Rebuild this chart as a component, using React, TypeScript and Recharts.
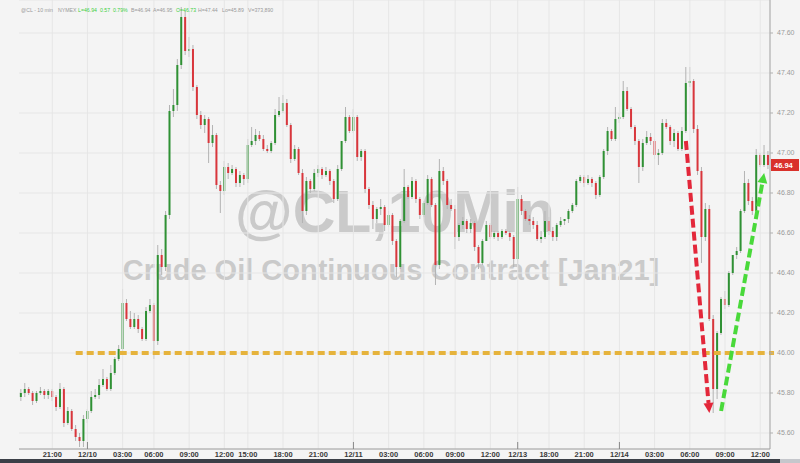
import React from 'react';
import { ComposedChart, Bar, XAxis, YAxis, CartesianGrid, ReferenceLine } from 'recharts';

// 20-minute candles, 12/09 evening to 12/14 midday
const opens = [
  45.78, 45.80, 45.82, 45.80, 45.76, 45.80, 45.81, 45.79, 45.81, 45.78,
  45.73, 45.82, 45.65, 45.71, 45.62, 45.58, 45.56, 45.67, 45.71, 45.78,
  45.79, 45.84, 45.87, 45.82, 45.90, 45.97, 46.02, 46.25, 46.17, 46.13,
  46.17, 46.12, 46.07, 46.21, 46.24, 46.06, 46.49, 46.43, 46.69, 47.21,
  47.24, 47.44, 47.68, 47.51, 47.52, 47.33, 47.19, 47.14, 47.17, 47.05,
  47.09, 46.84, 46.81, 46.93, 46.90, 46.92, 46.85, 46.89, 46.87, 47.04,
  47.06, 47.09, 47.07, 47.02, 47.01, 47.05, 47.19, 47.21, 47.25, 47.14,
  46.97, 47.02, 46.90, 46.71, 46.86, 46.82, 46.90, 46.92, 46.89, 46.91,
  46.86, 46.77, 46.92, 47.06, 47.18, 47.11, 47.18, 46.98, 47.01, 46.82,
  46.74, 46.67, 46.72, 46.73, 46.64, 46.69, 46.56, 46.43, 46.66, 46.83,
  46.78, 46.86, 46.77, 46.69, 46.75, 46.87, 46.74, 46.44, 46.91, 46.86,
  46.74, 46.72, 46.58, 46.64, 46.66, 46.62, 46.65, 46.53, 46.45, 46.56,
  46.64, 46.58, 46.60, 46.58, 46.61, 46.60, 46.58, 46.47, 46.77, 46.71,
  46.67, 46.66, 46.64, 46.57, 46.58, 46.66, 46.61, 46.58, 46.64, 46.66,
  46.67, 46.71, 46.74, 46.86, 46.88, 46.85, 46.87, 46.85, 46.79, 46.88,
  47.01, 47.11, 47.07, 47.17, 47.18, 47.31, 47.22, 47.13, 47.06, 46.93,
  47.05, 47.08, 47.06, 46.99, 47.00, 47.15, 47.13, 47.06, 47.10, 47.02,
  47.11, 47.35, 47.36, 47.12, 46.91, 46.58, 46.72, 46.17, 45.82, 46.10,
  46.27, 46.24, 46.40, 46.49, 46.51, 46.71, 46.85, 46.76, 46.71, 46.99,
  46.94, 46.99,
];

const highs = [
  45.82, 45.85, 45.83, 45.81, 45.81, 45.83, 45.82, 45.82, 45.82, 45.79,
  45.85, 45.83, 45.73, 45.72, 45.64, 45.60, 45.69, 45.72, 45.81, 45.82,
  45.87, 45.92, 45.88, 45.94, 45.98, 46.04, 46.32, 46.27, 46.21, 46.20,
  46.19, 46.13, 46.23, 46.27, 46.25, 46.54, 46.52, 46.71, 47.24, 47.32,
  47.47, 47.73, 47.71, 47.58, 47.54, 47.34, 47.21, 47.19, 47.18, 47.14,
  47.10, 46.86, 46.96, 46.95, 46.94, 46.93, 46.91, 46.90, 47.07, 47.13,
  47.12, 47.11, 47.09, 47.04, 47.06, 47.22, 47.28, 47.29, 47.27, 47.15,
  47.04, 47.03, 46.92, 46.88, 46.87, 46.92, 46.94, 46.93, 46.93, 46.92,
  46.87, 46.94, 47.06, 47.23, 47.19, 47.22, 47.19, 47.02, 47.02, 46.83,
  46.76, 46.73, 46.77, 46.74, 46.71, 46.70, 46.57, 46.67, 46.92, 46.84,
  46.88, 46.87, 46.78, 46.76, 46.89, 46.88, 46.75, 46.97, 46.93, 46.87,
  46.77, 46.74, 46.65, 46.68, 46.67, 46.67, 46.66, 46.54, 46.57, 46.66,
  46.65, 46.61, 46.61, 46.62, 46.62, 46.61, 46.59, 46.83, 46.79, 46.72,
  46.69, 46.68, 46.66, 46.61, 46.71, 46.68, 46.63, 46.65, 46.68, 46.67,
  46.72, 46.75, 46.87, 46.89, 46.89, 46.89, 46.88, 46.86, 46.89, 47.02,
  47.13, 47.12, 47.23, 47.20, 47.36, 47.33, 47.23, 47.14, 47.07, 47.07,
  47.11, 47.10, 47.07, 47.02, 47.17, 47.17, 47.14, 47.12, 47.11, 47.13,
  47.43, 47.43, 47.37, 47.14, 46.93, 46.75, 46.74, 46.19, 46.11, 46.28,
  46.31, 46.41, 46.49, 46.53, 46.72, 46.91, 46.87, 46.78, 47.02, 47.00,
  47.04, 47.01,
];

const lows = [
  45.76, 45.78, 45.79, 45.74, 45.75, 45.79, 45.77, 45.77, 45.76, 45.71,
  45.72, 45.63, 45.64, 45.61, 45.56, 45.53, 45.53, 45.65, 45.70, 45.77,
  45.77, 45.83, 45.81, 45.81, 45.89, 45.96, 46.01, 46.16, 46.12, 46.12,
  46.10, 46.06, 46.06, 46.20, 45.97, 46.04, 46.39, 46.41, 46.67, 47.18,
  47.21, 47.42, 47.49, 47.48, 47.31, 47.17, 47.12, 47.10, 46.95, 47.03,
  46.82, 46.70, 46.79, 46.87, 46.89, 46.83, 46.83, 46.84, 46.85, 47.03,
  47.04, 47.06, 47.01, 47.00, 47.00, 47.04, 47.18, 47.20, 47.13, 46.95,
  46.96, 46.89, 46.65, 46.69, 46.80, 46.81, 46.88, 46.87, 46.88, 46.84,
  46.75, 46.76, 46.91, 47.05, 47.10, 47.10, 46.96, 46.96, 46.80, 46.72,
  46.62, 46.65, 46.69, 46.61, 46.63, 46.54, 46.38, 46.42, 46.65, 46.77,
  46.77, 46.75, 46.67, 46.68, 46.74, 46.73, 46.34, 46.42, 46.84, 46.72,
  46.71, 46.52, 46.56, 46.62, 46.60, 46.60, 46.51, 46.42, 46.44, 46.56,
  46.57, 46.57, 46.56, 46.57, 46.59, 46.56, 46.43, 46.44, 46.69, 46.66,
  46.64, 46.62, 46.56, 46.55, 46.57, 46.59, 46.56, 46.56, 46.63, 46.64,
  46.65, 46.70, 46.73, 46.85, 46.83, 46.84, 46.83, 46.77, 46.78, 46.87,
  46.99, 47.06, 47.06, 47.15, 47.17, 47.21, 47.12, 47.04, 46.85, 46.91,
  47.04, 47.04, 46.97, 46.94, 46.99, 47.12, 47.04, 47.03, 47.01, 47.01,
  47.10, 47.33, 47.10, 46.89, 46.45, 46.56, 46.16, 45.70, 45.77, 46.09,
  46.22, 46.23, 46.39, 46.47, 46.50, 46.70, 46.74, 46.69, 46.70, 46.93,
  46.93, 46.92,
];

const closes = [
  45.80, 45.82, 45.80, 45.76, 45.80, 45.81, 45.79, 45.81, 45.78, 45.73,
  45.82, 45.65, 45.71, 45.62, 45.58, 45.56, 45.67, 45.71, 45.78, 45.79,
  45.84, 45.87, 45.82, 45.90, 45.97, 46.02, 46.25, 46.17, 46.13, 46.17,
  46.12, 46.07, 46.21, 46.24, 46.06, 46.49, 46.43, 46.69, 47.21, 47.24,
  47.44, 47.68, 47.51, 47.52, 47.33, 47.19, 47.14, 47.17, 47.05, 47.09,
  46.84, 46.81, 46.93, 46.90, 46.92, 46.85, 46.89, 46.87, 47.04, 47.06,
  47.09, 47.07, 47.02, 47.01, 47.05, 47.19, 47.21, 47.25, 47.14, 46.97,
  47.02, 46.90, 46.71, 46.86, 46.82, 46.90, 46.92, 46.89, 46.91, 46.86,
  46.77, 46.92, 47.06, 47.18, 47.11, 47.18, 46.98, 47.01, 46.82, 46.74,
  46.67, 46.72, 46.73, 46.64, 46.69, 46.56, 46.43, 46.66, 46.83, 46.78,
  46.86, 46.77, 46.69, 46.75, 46.87, 46.74, 46.44, 46.91, 46.86, 46.74,
  46.72, 46.58, 46.64, 46.66, 46.62, 46.65, 46.53, 46.45, 46.56, 46.64,
  46.58, 46.60, 46.58, 46.61, 46.60, 46.58, 46.47, 46.77, 46.71, 46.67,
  46.66, 46.64, 46.57, 46.58, 46.66, 46.61, 46.58, 46.64, 46.66, 46.67,
  46.71, 46.74, 46.86, 46.88, 46.85, 46.87, 46.85, 46.79, 46.88, 47.01,
  47.11, 47.07, 47.17, 47.18, 47.31, 47.22, 47.13, 47.06, 46.93, 47.05,
  47.08, 47.06, 46.99, 47.00, 47.15, 47.13, 47.06, 47.10, 47.02, 47.11,
  47.35, 47.36, 47.12, 46.91, 46.58, 46.72, 46.17, 45.82, 46.10, 46.27,
  46.24, 46.40, 46.49, 46.51, 46.71, 46.85, 46.76, 46.71, 46.99, 46.94,
  46.99, 46.94,
];

// time axis labels and the candle they sit under
const timeTickIdx = [8, 17, 26, 34, 43, 52, 58, 67, 76, 85, 94, 103, 111, 120, 127, 135, 144, 153, 162, 171, 180, 189];
const timeTickLabels = [
  '21:00', '12/10', '03:00', '06:00', '09:00', '12:00', '15:00', '18:00', '21:00', '12/11', '03:00',
  '06:00', '09:00', '12:00', '12/13', '18:00', '21:00', '12/14', '03:00', '06:00', '09:00', '12:00',
];
const priceTicks = [45.6, 45.8, 46.0, 46.2, 46.4, 46.6, 46.8, 47.0, 47.2, 47.4, 47.6];

const supportLevel = 46.0;
const supportFromIdx = 14;
const lastPrice = 46.94;
const dropArrow = [{ i: 170, p: 47.06 }, { i: 176, p: 45.7 }];
const reboundArrow = [{ i: 179, p: 45.71 }, { i: 190, p: 46.9 }];

const header = [
  { x: 21, t: '@CL - 10 min', c: '#9a9a9a' },
  { x: 58, t: 'NYMEX', c: '#9a9a9a' },
  { x: 78, t: 'L=46.94', c: '#3ecf3e' },
  { x: 100, t: '0.57', c: '#3ecf3e' },
  { x: 113, t: '0.79%', c: '#3ecf3e' },
  { x: 131, t: 'B=46.94', c: '#9a9a9a' },
  { x: 153, t: 'A=46.95', c: '#9a9a9a' },
  { x: 176, t: 'O=46.73', c: '#3ecf3e' },
  { x: 198, t: 'H=47.44', c: '#9a9a9a' },
  { x: 222, t: 'Lo=45.89', c: '#9a9a9a' },
  { x: 248, t: 'V=373,890', c: '#9a9a9a' },
];

const data = closes.map((c, i) => ({
  i,
  o: opens[i],
  h: highs[i],
  l: lows[i],
  c,
  range: [lows[i], highs[i]],
}));

const tickLabelByIdx = new Map(timeTickIdx.map((v, k) => [v, timeTickLabels[k]]));

const FONT = '"Liberation Sans", Arial, sans-serif';

function Candle(props: any) {
  const { x, y, width, height, payload } = props;
  const { o, h, l, c } = payload;
  const top = Math.min(y, y + height);
  const k = Math.abs(height) / (h - l);
  const py = (p: number) => top + (h - p) * k;
  const cx = x + width / 2;
  const up = c >= o;
  const bTop = py(Math.max(o, c));
  const bBot = py(Math.min(o, c));
  return (
    <g>
      <line x1={cx} x2={cx} y1={top} y2={top + Math.abs(height)} stroke="#b3b3b3" strokeWidth={1} />
      <rect x={x} y={bTop} width={width} height={Math.max(1, bBot - bTop)} fill={up ? '#2f9134' : '#d9363c'} />
    </g>
  );
}

function TimeTick(props: any) {
  const { x, y, payload } = props;
  const label = tickLabelByIdx.get(payload.value);
  if (!label) return null;
  const isDate = label.includes('/');
  return (
    <g>
      {isDate && <line x1={x} x2={x} y1={y - 7} y2={y} stroke="#888" strokeWidth={1} />}
      <text x={x} y={y + 8} textAnchor="middle" fontSize={7.5} fontWeight={600} fill="#3a3a3a" fontFamily={FONT}>
        {label}
      </text>
    </g>
  );
}

function arrowShape(color: string) {
  return (props: any) => {
    const { x1, y1, x2, y2 } = props;
    const dx = x2 - x1;
    const dy = y2 - y1;
    const len = Math.hypot(dx, dy) || 1;
    const ux = dx / len;
    const uy = dy / len;
    const hl = 10;
    const hw = 5;
    const bx = x2 - ux * hl;
    const by = y2 - uy * hl;
    return (
      <g>
        <line x1={x1} y1={y1} x2={bx} y2={by} stroke={color} strokeWidth={4} strokeDasharray="9 4" />
        <polygon
          points={`${x2},${y2} ${bx - uy * hw},${by + ux * hw} ${bx + uy * hw},${by - ux * hw}`}
          fill={color}
        />
      </g>
    );
  };
}

function PriceTag({ viewBox, text, bg, fg }: any) {
  const x = viewBox.x + viewBox.width;
  const y = viewBox.y;
  return (
    <g>
      <rect x={x + 1} y={y - 6} width={28} height={12} fill={bg} />
      <text x={x + 4} y={y + 3} fontSize={7.5} fontWeight={700} fill={fg} fontFamily={FONT}>
        {text}
      </text>
    </g>
  );
}

function SupportTab({ viewBox }: any) {
  const x = viewBox.x + viewBox.width;
  return <rect x={x + 1} y={viewBox.y - 2} width={5} height={4} fill="#e6b33c" />;
}

export default function App() {
  return (
    <div style={{ position: 'absolute', left: 0, top: 0, width: 800, height: 463, background: '#f4f4f4', fontFamily: FONT, overflow: 'hidden' }}>
      <svg width={800} height={463} style={{ position: 'absolute', left: 0, top: 0 }}>
        <text x={395} y={232} textAnchor="middle" fontSize={59} fontWeight={700} fill="#cacaca" fontFamily={FONT}>
          @CL,10Min
        </text>
        <text x={391} y={280} textAnchor="middle" fontSize={29} fontWeight={700} fill="#cacaca" fontFamily={FONT}>
          Crude Oil Continuous Contract [Jan21]
        </text>
      </svg>
      <div style={{ position: 'absolute', left: 0, top: 0 }}>
        <ComposedChart
          width={800}
          height={459}
          data={data}
          margin={{ top: 0, right: 0, left: 19, bottom: 0 }}
          barCategoryGap="22%"
        >
          <CartesianGrid vertical={false} stroke="#e6e6e6" />
          {timeTickIdx.map((v) => (
            <ReferenceLine key={'v' + v} x={v} stroke="#e6e6e6" />
          ))}
          <XAxis
            dataKey="i"
            type="category"
            interval={0}
            height={10}
            tickSize={0}
            tickMargin={0}
            tickLine={false}
            axisLine={{ stroke: '#a0a0a0' }}
            tick={(p: any) => <TimeTick {...p} />}
          />
          <YAxis
            orientation="right"
            width={30}
            domain={[45.52, 47.765]}
            allowDataOverflow
            ticks={priceTicks}
            tickFormatter={(v: number) => v.toFixed(2)}
            tick={{ fontSize: 7, fill: '#9a9a9a', fontFamily: FONT }}
            tickSize={3}
            tickMargin={4}
            tickLine={{ stroke: '#b0b0b0' }}
            axisLine={{ stroke: '#a0a0a0' }}
          />
          <YAxis yAxisId="left" orientation="left" width={0} tick={false} tickLine={false} axisLine={{ stroke: '#a0a0a0' }} />
          <Bar dataKey="range" shape={(p: any) => <Candle {...p} />} isAnimationActive={false} />
          <ReferenceLine
            segment={[{ x: supportFromIdx, y: supportLevel }, { x: data.length - 1, y: supportLevel }]}
            stroke="#e6b33c"
            strokeWidth={4}
            strokeDasharray="7 4"
            label={(p: any) => <SupportTab {...p} />}
          />
          <ReferenceLine
            y={lastPrice}
            stroke="none"
            label={(p: any) => <PriceTag {...p} text={lastPrice.toFixed(2)} bg="#d9312b" fg="#ffffff" />}
          />
          <ReferenceLine
            segment={[{ x: dropArrow[0].i, y: dropArrow[0].p }, { x: dropArrow[1].i, y: dropArrow[1].p }]}
            shape={arrowShape('#e3273a')}
          />
          <ReferenceLine
            segment={[{ x: reboundArrow[0].i, y: reboundArrow[0].p }, { x: reboundArrow[1].i, y: reboundArrow[1].p }]}
            shape={arrowShape('#49d93a')}
          />
        </ComposedChart>
      </div>
      <svg width={800} height={20} style={{ position: 'absolute', left: 0, top: 0 }}>
        {header.map((h) => (
          <text key={h.x} x={h.x} y={12} fontSize={5.2} fill={h.c} fontFamily={FONT}>
            {h.t}
          </text>
        ))}
      </svg>
      <div style={{ position: 'absolute', left: 0, top: 459, width: 780, height: 4, background: '#3b3f47' }} />
      <div style={{ position: 'absolute', left: 780, top: 459, width: 20, height: 4, background: '#c5c7cc' }} />
    </div>
  );
}
